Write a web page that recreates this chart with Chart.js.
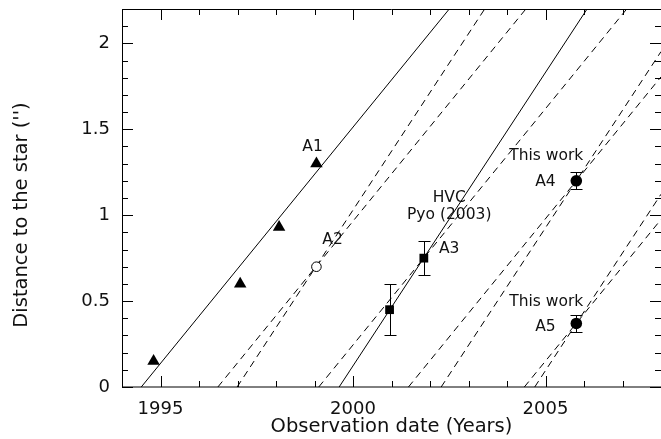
<!DOCTYPE html>
<html><head><meta charset="utf-8">
<script src="https://cdn.jsdelivr.net/npm/chart.js@4.4.1/dist/chart.umd.min.js"></script>
<style>html,body{margin:0;padding:0;background:#fff;}</style>
</head><body>
<canvas id="c" width="661" height="439"></canvas>
<script>
// ---------- data ----------
const xMajorTicks = [1995, 2000, 2005];
const yMajorTicks = [0, 0.5, 1, 1.5, 2];
const xTitle = 'Observation date (Years)';
const yTitle = "Distance to the star ('')";

const a1Years = [1994.82, 1997.07, 1998.08, 1999.05];
const a1Dist  = [0.15, 0.60, 0.93, 1.30];
const a2Years = [1999.05];
const a2Dist  = [0.70];
const a3Years = [2000.95, 2001.84];
const a3Dist  = [0.45, 0.75];
const a3Err   = [0.15, 0.10];
const a45Years = [2005.80, 2005.80];
const a45Dist  = [1.20, 0.37];
const a45Err   = [0.05, 0.05];

// trajectories: end points [year0, year1], [dist0, dist1]
const fitA1Years = [1994.50, 2002.50], fitA1Dist = [0, 2.2];
const fitA3Years = [1999.64, 2006.08], fitA3Dist = [0, 2.2];
const dA2fYears = [1996.99, 2003.42], dA2fDist = [0, 2.2];
const dA2sYears = [1996.49, 2004.49], dA2sDist = [0, 2.2];
const dA3sYears = [1999.11, 2007.11], dA3sDist = [0, 2.2];
const dA4fYears = [2002.29, 2008.00], dA4fDist = [0, 1.952];
const dA4sYears = [2001.44, 2008.00], dA4sDist = [0, 1.805];
const dA5fYears = [2004.72, 2008.00], dA5fDist = [0, 1.122];
const dA5sYears = [2004.45, 2008.00], dA5sDist = [0, 0.975];

// text annotations (data coordinates)
const noteText  = ['A1', 'A2', 'HVC', 'Pyo (2003)', 'A3', 'This work', 'A4', 'This work', 'A5'];
const noteYears = [1998.95, 1999.47, 2002.50, 2002.50, 2002.50, 2005.02, 2005.00, 2005.02, 2005.00];
const noteDist  = [1.396, 0.854, 1.099, 1.000, 0.802, 1.347, 1.196, 0.497, 0.352];

// ---------- build ----------
const FONT = 'DejaVu Sans';
const pts = (xs, ys) => xs.map((x, i) => ({x, y: ys[i]}));
const solid = (xs, ys) => ({data: pts(xs, ys), showLine: true, pointRadius: 0, borderColor: '#000', borderWidth: 1, order: 2});
const dashed = (xs, ys) => ({data: pts(xs, ys), showLine: true, pointRadius: 0, borderColor: '#000', borderWidth: 1, borderDash: [7, 5], order: 2});

const datasets = [
  {data: pts(a1Years, a1Dist), pointStyle: 'triangle', pointRadius: 7.2, backgroundColor: '#000', borderColor: '#000', borderWidth: 0, order: 0},
  {data: pts(a2Years, a2Dist), pointStyle: 'circle', pointRadius: 4.8, backgroundColor: '#fff', borderColor: '#000', borderWidth: 1, order: 0},
  {data: pts(a3Years, a3Dist), pointStyle: 'rect', pointRadius: 6.2, backgroundColor: '#000', borderColor: '#000', borderWidth: 0, order: 0, errs: a3Err},
  {data: pts(a45Years, a45Dist), pointStyle: 'circle', pointRadius: 5.8, backgroundColor: '#000', borderColor: '#000', borderWidth: 0, order: 0, errs: a45Err},
  solid(fitA1Years, fitA1Dist),
  solid(fitA3Years, fitA3Dist),
  dashed(dA2fYears, dA2fDist),
  dashed(dA2sYears, dA2sDist),
  dashed(dA3sYears, dA3sDist),
  dashed(dA4fYears, dA4fDist),
  dashed(dA4sYears, dA4sDist),
  dashed(dA5fYears, dA5fDist),
  dashed(dA5sYears, dA5sDist)
];

const decor = {
  id: 'decor',
  afterDatasetsDraw(chart) {
    const {ctx, scales: {x, y}} = chart;
    ctx.save();
    ctx.strokeStyle = '#000';
    ctx.lineWidth = 1;
    chart.data.datasets.forEach(ds => {
      if (!ds.errs) return;
      ds.data.forEach((p, i) => {
        const px = Math.round(x.getPixelForValue(p.x)) + 0.5;
        const y0 = Math.round(y.getPixelForValue(p.y - ds.errs[i])) + 0.5;
        const y1 = Math.round(y.getPixelForValue(p.y + ds.errs[i])) + 0.5;
        ctx.beginPath();
        ctx.moveTo(px, y0); ctx.lineTo(px, y1);
        ctx.moveTo(px - 6, y0); ctx.lineTo(px + 6, y0);
        ctx.moveTo(px - 6, y1); ctx.lineTo(px + 6, y1);
        ctx.stroke();
      });
    });
    ctx.fillStyle = '#111';
    ctx.font = '15.5px "' + FONT + '"';
    ctx.textAlign = 'center';
    ctx.textBaseline = 'middle';
    noteText.forEach((t, i) => {
      ctx.fillText(t, x.getPixelForValue(noteYears[i]), y.getPixelForValue(noteDist[i]));
    });
    ctx.restore();
  },
  afterDraw(chart) {
    const {ctx, chartArea: ca, scales: {x, y}} = chart;
    ctx.save();
    ctx.strokeStyle = '#000';
    ctx.lineWidth = 1;
    ctx.beginPath();
    ctx.moveTo(ca.left + 0.5, ca.top + 0.5); ctx.lineTo(ca.left + 0.5, ca.bottom);
    ctx.moveTo(ca.left, ca.top + 0.5); ctx.lineTo(ca.right, ca.top + 0.5);
    ctx.moveTo(ca.left, ca.bottom); ctx.lineTo(ca.right, ca.bottom);
    x.ticks.forEach(t => {
      const px = Math.round(x.getPixelForValue(t.value)) + 0.5;
      const len = xMajorTicks.includes(t.value) ? 11 : 6;
      ctx.moveTo(px, ca.bottom); ctx.lineTo(px, ca.bottom - len);
      ctx.moveTo(px, ca.top); ctx.lineTo(px, ca.top + len);
    });
    y.ticks.forEach(t => {
      const py = Math.round(y.getPixelForValue(t.value)) + 0.5;
      const major = yMajorTicks.some(v => Math.abs(v - t.value) < 1e-6);
      const len = major ? 11 : 6;
      ctx.moveTo(ca.left, py); ctx.lineTo(ca.left + len, py);
      ctx.moveTo(ca.right, py); ctx.lineTo(ca.right - len, py);
    });
    ctx.stroke();
    ctx.fillStyle = '#111';
    ctx.font = '19.5px "' + FONT + '"';
    ctx.textAlign = 'center';
    ctx.textBaseline = 'middle';
    ctx.translate(22, 215);
    ctx.rotate(-Math.PI / 2);
    ctx.fillText(yTitle, 0, 0);
    ctx.restore();
  }
};

new Chart(document.getElementById('c'), {
  type: 'scatter',
  data: {datasets},
  options: {
    responsive: false,
    animation: false,
    devicePixelRatio: 1,
    layout: {autoPadding: false, padding: {top: 9, right: 0, left: 0, bottom: 0}},
    plugins: {legend: {display: false}, tooltip: {enabled: false}},
    scales: {
      x: {
        type: 'linear', min: 1994, max: 2008,
        grid: {display: false, drawTicks: false}, border: {display: false},
        ticks: {stepSize: 1, autoSkip: false, maxRotation: 0, padding: 12, color: '#111',
          font: {family: FONT, size: 18},
          callback: v => xMajorTicks.includes(v) ? String(v) : ''},
        title: {display: true, text: xTitle, color: '#111', font: {family: FONT, size: 19.5}, padding: {top: 0, bottom: 0}},
        afterFit(s) { s.height = 52; s.paddingLeft = 0; s.paddingRight = 0; }
      },
      y: {
        type: 'linear', min: 0, max: 2.2,
        grid: {display: false, drawTicks: false}, border: {display: false},
        ticks: {stepSize: 0.1, autoSkip: false, padding: 12, color: '#111',
          font: {family: FONT, size: 18},
          callback: v => { const m = yMajorTicks.find(t => Math.abs(t - v) < 1e-6); return m === undefined ? '' : String(m); }},
        afterFit(s) { s.width = 122; s.paddingTop = 0; s.paddingBottom = 0; }
      }
    }
  },
  plugins: [decor]
});
</script>
</body></html>
